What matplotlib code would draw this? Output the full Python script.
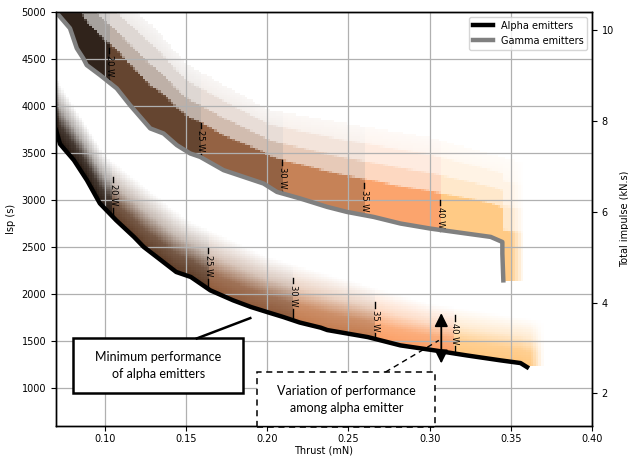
import numpy as np
import matplotlib.pyplot as plt
from matplotlib.patches import Rectangle, FancyArrowPatch
from matplotlib.lines import Line2D

plt.rcParams['font.size'] = 7

# minimum performance curves (thrust in mN, Isp in s)
alpha_thrust = [0.070, 0.0725, 0.081, 0.089, 0.097, 0.107, 0.118, 0.124, 0.132, 0.144, 0.153,
                0.165, 0.179, 0.190, 0.200, 0.210, 0.220, 0.233, 0.237, 0.262, 0.282, 0.303,
                0.323, 0.344, 0.356, 0.360]
alpha_isp = [3745, 3596, 3425, 3213, 2966, 2787, 2610, 2503, 2397, 2237, 2184,
             2042, 1936, 1865, 1811, 1758, 1700, 1645, 1620, 1545, 1457, 1404,
             1350, 1297, 1269, 1226]

gamma_thrust = [0.070, 0.0786, 0.0828, 0.0868, 0.0889, 0.0971, 0.1074, 0.1156, 0.1280, 0.1362,
                0.1444, 0.1526, 0.1588, 0.1732, 0.1855, 0.1978, 0.2060, 0.2204, 0.2369, 0.2492,
                0.2656, 0.2821, 0.3006, 0.3376, 0.3448, 0.3448, 0.3454]
gamma_isp = [5000, 4827, 4614, 4507, 4436, 4330, 4188, 4010, 3763, 3709,
             3585, 3497, 3460, 3319, 3248, 3177, 3088, 3018, 2929, 2875,
             2822, 2752, 2698, 2610, 2556, 2432, 2148]

# upper edge where the spread of emitters fades out
alpha_top_thrust = [0.07, 0.10, 0.15, 0.20, 0.25, 0.30, 0.35, 0.37]
alpha_top_isp = [4300, 3480, 2800, 2400, 2150, 1900, 1770, 1720]
gamma_top_thrust = [0.07, 0.10, 0.13, 0.15, 0.20, 0.25, 0.30, 0.35, 0.36]
gamma_top_isp = [6000, 5300, 4850, 4450, 3970, 3810, 3670, 3430, 3400]
alpha_end = 0.370
gamma_end = 0.358

# power contours
power_levels = [20, 25, 30, 35, 40]
alpha_contour_thrust = [0.1051, 0.1638, 0.2160, 0.2665, 0.3154]
alpha_contour_top = [3244, 2489, 2170, 1914, 1776]
gamma_contour_thrust = [0.1028, 0.1590, 0.2092, 0.2597, 0.3066]
gamma_contour_top = [4617, 3819, 3425, 3181, 3000]
shade_levels = [0.12, 0.3, 0.45, 0.62, 0.8, 1.0]

xmin, xmax, ymin, ymax = 0.07, 0.40, 600, 5000
nx, ny = 210, 180
xe = np.linspace(xmin, xmax, nx + 1)
ye = np.linspace(ymin, ymax, ny + 1)
xs = (xe[:-1] + xe[1:]) / 2
ys = (ye[:-1] + ye[1:]) / 2
X, Y = np.meshgrid(xs, ys)


def band_image(lx, ly, tx, ty, x_end, cuts, prof_f, prof_a):
    low = np.interp(xs, lx, ly)
    top = np.interp(xs, tx, ty)
    f = (Y - low) / (top - low)
    a = np.interp(f, prof_f, prof_a, left=0, right=0)
    # soft ragged right end
    a *= np.clip((x_end - X) / 0.008, 0, 1)
    t = np.array(shade_levels)[np.searchsorted(cuts, xs)]
    rgb = plt.cm.copper(t)
    img = np.repeat(rgb[None, :, :], ny, axis=0)
    img[..., 3] = a
    return img


fig = plt.figure(figsize=(6.28, 4.57), dpi=100)
ax = fig.add_axes([0.0892, 0.0678, 0.8535, 0.9059])

img_a = band_image(alpha_thrust, alpha_isp, alpha_top_thrust, alpha_top_isp, alpha_end,
                   alpha_contour_thrust, [0, 0.3, 0.6, 1.0], [1.0, 0.85, 0.35, 0.0])
img_g = band_image(gamma_thrust, gamma_isp, gamma_top_thrust, gamma_top_isp, gamma_end,
                   gamma_contour_thrust,
                   [0, 0.4, 0.42, 0.6, 0.62, 0.8, 0.82, 1.0],
                   [0.95, 0.95, 0.4, 0.4, 0.2, 0.2, 0.1, 0.05])
ext = [xmin, xmax, ymin, ymax]
ax.imshow(img_a, origin='lower', extent=ext, aspect='auto', interpolation='nearest', zorder=1)
ax.imshow(img_g, origin='lower', extent=ext, aspect='auto', interpolation='nearest', zorder=1)

ax.plot(alpha_thrust, alpha_isp, color='black', lw=3.2, zorder=4)
ax.plot(gamma_thrust, gamma_isp, color='gray', lw=3.2, zorder=4)

# power contour labels
for cx, ctop, lx, ly in [(alpha_contour_thrust, alpha_contour_top, alpha_thrust, alpha_isp),
                         (gamma_contour_thrust, gamma_contour_top, gamma_thrust, gamma_isp)]:
    for p, x, top in zip(power_levels, cx, ctop):
        bottom = np.interp(x, lx, ly)
        ax.plot([x, x], [top, top - 55], color='black', lw=1, zorder=3)
        ax.plot([x, x], [top - 330, bottom], color='black', lw=1, zorder=3)
        ax.text(x, top - 190, '%d W' % p, rotation=270, ha='center', va='center',
                fontsize=6, zorder=3)

ax.set_xlim(xmin, xmax)
ax.set_ylim(ymin, ymax)
ax.set_xticks([0.10, 0.15, 0.20, 0.25, 0.30, 0.35, 0.40])
ax.set_yticks([1000, 1500, 2000, 2500, 3000, 3500, 4000, 4500, 5000])
ax.set_xticklabels(['0.10', '0.15', '0.20', '0.25', '0.30', '0.35', '0.40'])
ax.tick_params(axis='x', pad=2)
ax.grid(True, color='#b0b0b0', lw=0.9, zorder=0)
ax.set_xlabel('Thrust (mN)', labelpad=1)
ax.set_ylabel('Isp (s)')

ax2 = ax.twinx()
ax2.set_ylim(1.28, 10.40)
ax2.set_yticks([2, 4, 6, 8, 10])
ax2.set_ylabel('Total impulse (kN.s)')
for a in (ax, ax2):
    for s in a.spines.values():
        s.set_linewidth(1.0)

handles = [Line2D([], [], color='black', lw=3.2), Line2D([], [], color='gray', lw=3.2)]
ax2.legend(handles, ['Alpha emitters', 'Gamma emitters'], loc='upper right', fontsize=7)

# annotations
ax.add_patch(Rectangle((0.0805, 946), 0.1853 - 0.0805, 1531 - 946, fill=True, fc='white',
                       ec='black', lw=1.8, zorder=5))
ax.text((0.0805 + 0.1853) / 2, (946 + 1531) / 2, 'Minimum performance\nof alpha emitters',
        ha='center', va='center', fontsize=9, family='Lato', linespacing=1.5, zorder=6)
ax.plot([0.1567, 0.1896], [1531, 1747], color='black', lw=1.8, zorder=5)

ax.add_patch(Rectangle((0.1939, 585), 0.3036 - 0.1939, 1170 - 585, fill=True, fc='white',
                       ec='black', lw=1.1, ls=(0, (4, 3)), zorder=5, clip_on=False))
ax.text((0.1939 + 0.3036) / 2, (600 + 1170) / 2, 'Variation of performance\namong alpha emitter',
        ha='center', va='center', fontsize=9, family='Lato', linespacing=1.5, zorder=6)
ax.plot([0.2728, 0.3057], [1173, 1510], color='black', lw=1.0, ls=(0, (4, 3)), zorder=5)

ax.add_patch(FancyArrowPatch((0.3072, 1265), (0.3072, 1800),
                             arrowstyle='<|-|>,head_width=4,head_length=8',
                             color='black', lw=1.3, shrinkA=0, shrinkB=0, zorder=6))

fig.savefig('out.png', dpi=100)
